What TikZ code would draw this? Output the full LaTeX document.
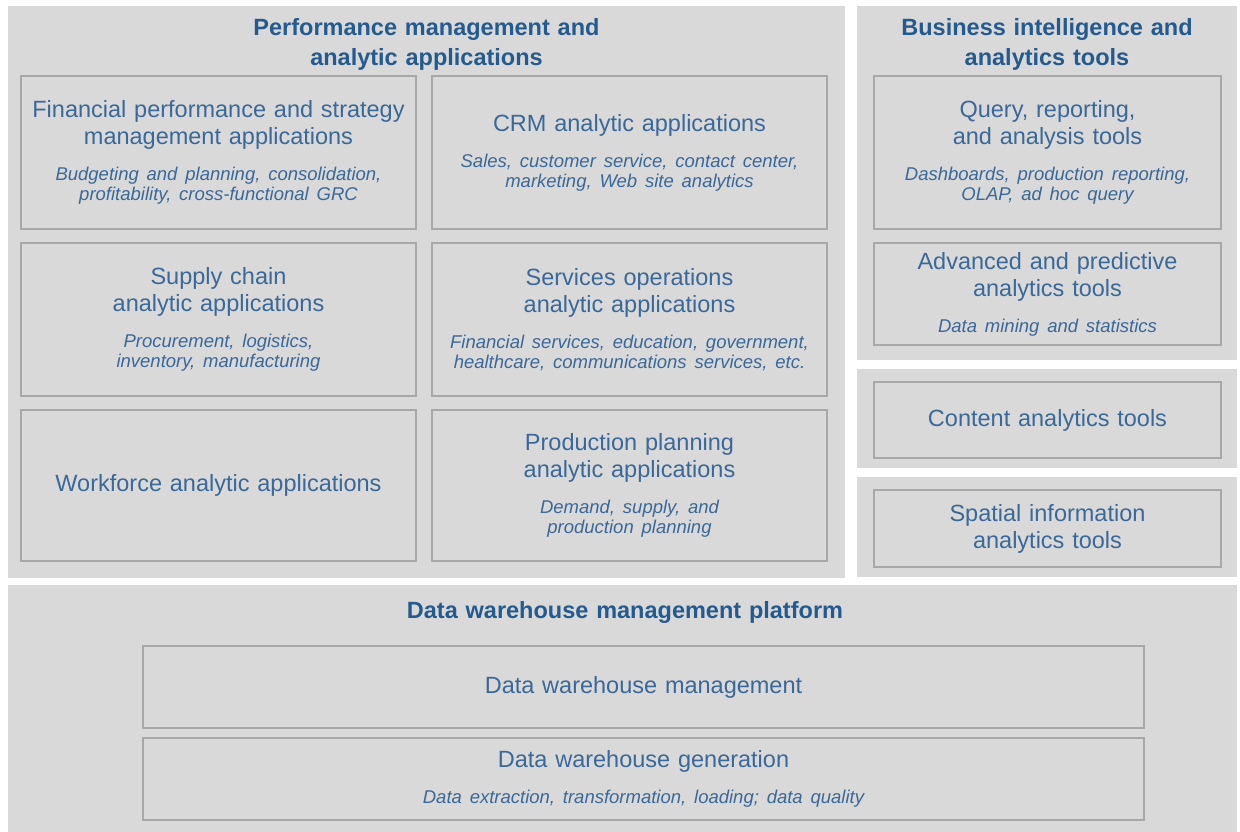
\documentclass[tikz,border=0pt]{standalone}
\usepackage{fontspec}
\setmainfont{Liberation Sans}
\definecolor{panelgray}{HTML}{D9D9D9}
\definecolor{boxline}{HTML}{A8A8A8}
\definecolor{ttlblue}{HTML}{245A8E}
\definecolor{txtblue}{HTML}{3A6898}
\newcommand\mainf{\fontsize{23.5}{27}\selectfont}
\newcommand\descf{\fontsize{18.5}{20}\selectfont\itshape}
\newcommand\headf{\fontsize{23.5}{30}\selectfont\bfseries}
\newcommand\gapd{\vspace{16pt}}
\begin{document}
\begin{tikzpicture}[x=1pt,y=-1pt,
  panel/.style={fill=panelgray, draw=none, inner sep=0pt},
  heading/.style={text=ttlblue, font=\headf, align=center, inner sep=0pt, text width=560pt},
  box/.style={draw=boxline, line width=1.4pt, fill=panelgray, inner sep=5pt,
              align=center, text=txtblue, font=\mainf},
  wbox/.style={box, minimum width=395pt, text width=385pt},
  rbox/.style={box, minimum width=347pt, text width=337pt},
  dbox/.style={box, minimum width=1001pt, text width=991pt}]
\useasboundingbox (0,0) rectangle (1240,832);
\fill[white] (0,0) rectangle (1240,832);
% panels
\node[panel, minimum width=837pt, minimum height=572pt] (perf) at (426.5,292) {};
\node[panel, minimum width=380pt, minimum height=354pt] (bi) at (1047,183) {};
\node[panel, minimum width=380pt, minimum height=99pt] (contp) at (1047,418.5) {};
\node[panel, minimum width=380pt, minimum height=100pt] (spap) at (1047,527) {};
\node[panel, minimum width=1229pt, minimum height=247pt] (dwp) at (622.5,708.5) {};
% headings
\node[heading] (perft) at (426.5,44) {Performance management and\\analytic applications};
\node[heading, text width=370pt] (bit) at (1047,44) {Business intelligence and\\analytics tools};
\node[heading, text width=800pt] (dwt) at (625,612) {Data warehouse management platform};
% left panel boxes
\node[wbox, minimum height=153pt] (fin) at (218.5,152.5)
  {{\mainf Financial performance and strategy\\management applications\par}\gapd
   {\descf Budgeting and planning, consolidation,\\profitability, cross-functional GRC\par}};
\node[wbox, minimum height=153pt] (crm) at (629.5,152.5)
  {{\mainf CRM analytic applications\par}\gapd
   {\descf Sales, customer service, contact center,\\marketing, Web site analytics\par}};
\node[wbox, minimum height=153pt] (sup) at (218.5,319.5)
  {{\mainf Supply chain\\analytic applications\par}\gapd
   {\descf Procurement, logistics,\\inventory, manufacturing\par}};
\node[wbox, minimum height=153pt] (svc) at (629.5,319.5)
  {{\mainf Services operations\\analytic applications\par}\gapd
   {\descf Financial services, education, government,\\healthcare, communications services, etc.\par}};
\node[wbox, minimum height=151pt] (wf) at (218.5,485.5)
  {{\mainf Workforce analytic applications\par}};
\node[wbox, minimum height=151pt] (prod) at (629.5,485.5)
  {{\mainf Production planning\\analytic applications\par}\gapd
   {\descf Demand, supply, and\\production planning\par}};
% right boxes
\node[rbox, minimum height=153pt] (qry) at (1047.5,152.5)
  {{\mainf Query, reporting,\\and analysis tools\par}\gapd
   {\descf Dashboards, production reporting,\\OLAP, ad hoc query\par}};
\node[rbox, minimum height=102pt] (adv) at (1047.5,294)
  {{\mainf Advanced and predictive\\analytics tools\par}\gapd
   {\descf Data mining and statistics\par}};
\node[rbox, minimum height=76pt] (cnt) at (1047.5,420)
  {{\mainf Content analytics tools\par}};
\node[rbox, minimum height=77pt] (spa) at (1047.5,528.5)
  {{\mainf Spatial information\\analytics tools\par}};
% bottom boxes
\node[dbox, minimum height=82pt] (dwm) at (643.5,687)
  {{\mainf Data warehouse management\par}};
\node[dbox, minimum height=82pt] (dwg) at (643.5,779)
  {{\mainf Data warehouse generation\par}\gapd
   {\descf Data extraction, transformation, loading; data quality\par}};
\end{tikzpicture}
\end{document}
